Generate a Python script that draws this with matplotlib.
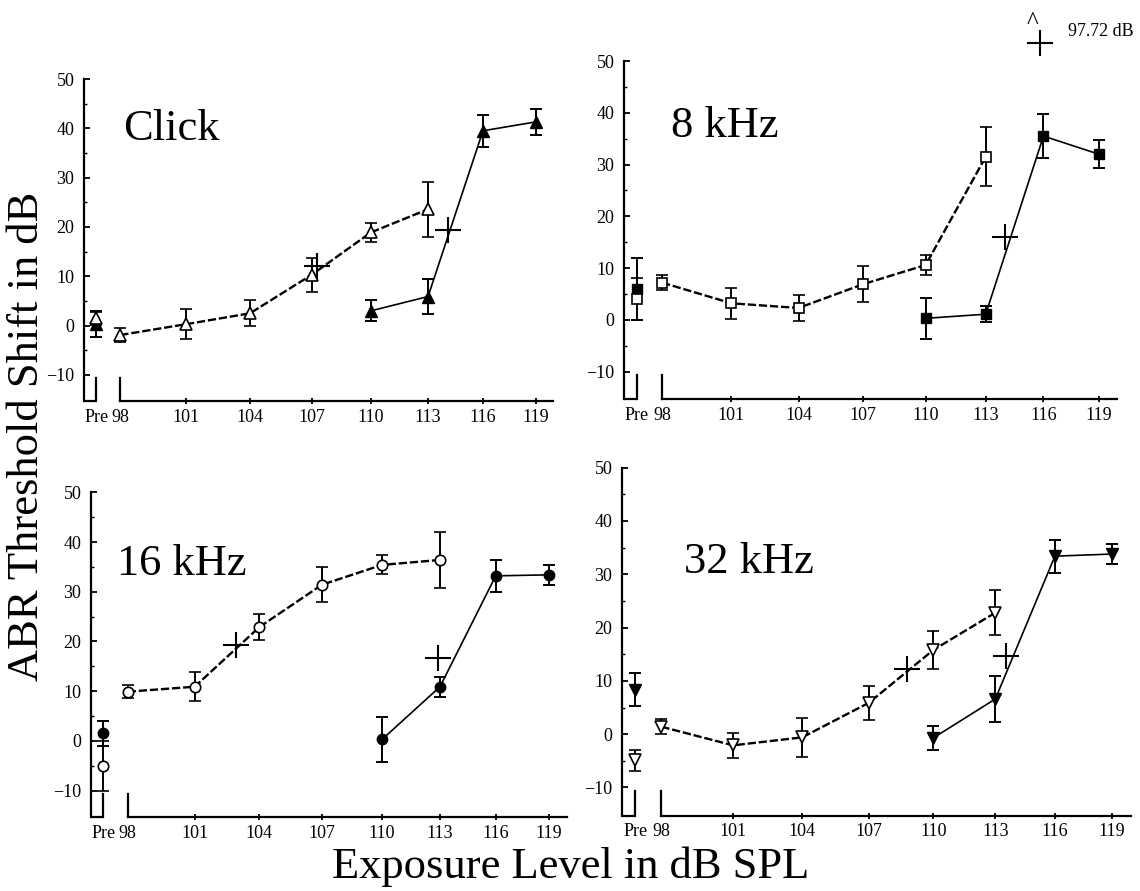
import numpy as np
import matplotlib
matplotlib.use('Agg')
import matplotlib.pyplot as plt

plt.rcParams['font.family'] = 'Liberation Serif'

# exposure levels (dB SPL); "Pre" sits just left of 98 on the broken axis
PRE = 96.93
levels_lo = [98, 101, 104, 107, 110, 113]
levels_hi = [110, 113, 116, 119]
tick_pos = [PRE, 98, 101, 104, 107, 110, 113, 116, 119]
tick_lab = ['Pre', '98', '101', '104', '107', '110', '113', '116', '119']

# Click (triangles)
click_open = [-1.9, 0.3, 2.5, 10.3, 18.9, 23.6]
click_open_err = [1.4, 3.0, 2.6, 3.5, 1.9, 5.6]
click_fill = [3.0, 5.9, 39.5, 41.3]
click_fill_err = [2.1, 3.5, 3.3, 2.7]
click_pre = [1.5, 0.3]
click_pre_err = [1.3, 2.6]
click_cross_x = [107.25, 114.05]
click_cross_y = [12.1, 19.4]

# 8 kHz (squares)
k8_open = [7.2, 3.2, 2.3, 6.9, 10.6, 31.5]
k8_open_err = [1.4, 3.0, 2.6, 3.5, 1.9, 5.7]
k8_fill = [0.3, 1.1, 35.5, 32.0]
k8_fill_err = [3.9, 1.5, 4.3, 2.7]
k8_pre = [4.0, 5.9]
k8_pre_err = [4.0, 6.0]
k8_cross_x = [115.8, 114.0]
k8_cross_y = [53.4, 15.95]

# 16 kHz (circles)
k16_open = [9.9, 10.9, 22.9, 31.4, 35.4, 36.4]
k16_open_err = [1.3, 2.9, 2.6, 3.5, 1.9, 5.6]
k16_fill = [0.3, 10.9, 33.2, 33.4]
k16_fill_err = [4.6, 2.0, 3.2, 2.0]
k16_pre = [-5.0, 1.5]
k16_pre_err = [5.0, 2.6]
k16_cross_x = [102.9, 112.9]
k16_cross_y = [19.2, 16.7]

# 32 kHz (down triangles)
k32_open = [1.4, -2.1, -0.6, 5.9, 15.8, 22.8]
k32_open_err = [1.4, 2.3, 3.7, 3.2, 3.6, 4.2]
k32_fill = [-0.7, 6.6, 33.4, 33.8]
k32_fill_err = [2.2, 4.3, 3.1, 1.9]
k32_pre = [-4.9, 8.3]
k32_pre_err = [2.0, 3.1]
k32_cross_x = [108.75, 113.55]
k32_cross_y = [12.3, 14.7]

# the printed x axis is slightly compressed toward the high end
K = 0.00551


def fwd(x):
    d = np.asarray(x, dtype=float) - 98
    return d - K * d * d


def inv(f):
    f = np.asarray(f, dtype=float)
    return 98 + (1 - np.sqrt(np.clip(1 - 4 * K * f, 0, None))) / (2 * K)


W, H = 1140, 891
fig = plt.figure(figsize=(W / 100, H / 100), dpi=100)


def px_axes(left, right, top, bottom):
    return fig.add_axes([left / W, 1 - bottom / H, (right - left) / W, (bottom - top) / H])


panels = [
    ('Click', '^', click_open, click_open_err, click_fill, click_fill_err,
     click_pre, click_pre_err, click_cross_x, click_cross_y,
     (84.2, 552.7, 79, 401.1), (0.083, 0.811), 8),
    ('8 kHz', 's', k8_open, k8_open_err, k8_fill, k8_fill_err,
     k8_pre, k8_pre_err, k8_cross_x, k8_cross_y,
     (624.1, 1116.8, 61, 399.1), (0.095, 0.775), 7.5),
    ('16 kHz', 'o', k16_open, k16_open_err, k16_fill, k16_fill_err,
     k16_pre, k16_pre_err, k16_cross_x, k16_cross_y,
     (91.1, 566.5, 492.3, 817.0), (0.054, 0.745), 7.5),
    ('32 kHz', 'v', k32_open, k32_open_err, k32_fill, k32_fill_err,
     k32_pre, k32_pre_err, k32_cross_x, k32_cross_y,
     (622.2, 1130.6, 467.7, 815.7), (0.121, 0.698), 8),
]

YMIN, YMAX = -15.3, 50
XMIN, XMAX = 96.4, 120.0

for (name, mk, yo, eo, yf, ef, pre, pre_err, cx, cy, box, txy, ms) in panels:
    ax = px_axes(*box)
    ax.set_xscale('function', functions=(fwd, inv))
    ax.set_xlim(XMIN, XMAX)
    ax.set_ylim(YMIN, YMAX)

    eb = dict(ecolor='k', elinewidth=1.4, capsize=4, capthick=1.4)
    # pre-exposure points: filled behind open
    ax.errorbar([PRE], [pre[1]], [pre_err[1]], marker=mk, ms=ms, mfc='k', mec='k',
                ls='none', zorder=3, **eb)
    ax.errorbar([PRE], [pre[0]], [pre_err[0]], marker=mk, ms=ms, mfc='w', mec='k',
                mew=1.2, ls='none', zorder=4, **eb)
    # open series (dashed)
    ax.errorbar(levels_lo, yo, eo, marker=mk, ms=ms, mfc='w', mec='k', mew=1.2,
                color='k', lw=1.7, ls=(0, (3.5, 1.2)), zorder=4, **eb)
    # filled series (solid)
    ax.errorbar(levels_hi, yf, ef, marker=mk, ms=ms, mfc='k', mec='k',
                color='k', lw=1.2, ls='-', zorder=3, **eb)
    # crosses
    ax.plot(cx, cy, ls='none', marker='+', ms=19, mew=1.5, color='k',
            clip_on=False, zorder=5)

    ax.text(txy[0], txy[1], name, transform=ax.transAxes, fontsize=32,
            ha='left', va='baseline')

    # spines and broken x axis
    for s in ['top', 'right']:
        ax.spines[s].set_visible(False)
    ax.spines['left'].set_linewidth(1.6)
    ax.spines['bottom'].set_linewidth(1.6)
    ax.spines['bottom'].set_bounds(98, XMAX)
    ax.plot([XMIN, PRE], [YMIN, YMIN], color='k', lw=1.6, clip_on=False,
            solid_capstyle='butt')
    ax.plot([PRE, PRE], [YMIN, -10.6], color='k', lw=1.6, clip_on=False)
    ax.plot([98, 98], [YMIN, -10.6], color='k', lw=1.6, clip_on=False)

    ax.set_xticks(tick_pos)
    ax.set_xticklabels(tick_lab)
    ax.tick_params(axis='x', direction='inout', length=5, width=1.3,
                   labelsize=13, pad=3)
    for t in ax.xaxis.get_major_ticks()[:2]:
        t.tick1line.set_visible(False)
    ax.set_yticks(np.arange(-10, 51, 10))
    ax.set_yticks(np.arange(-5, 50, 10), minor=True)
    ax.tick_params(axis='y', which='major', direction='in', length=4, width=1.3,
                   labelsize=13, pad=7)
    ax.tick_params(axis='y', which='minor', direction='in', length=2, width=1.0)

# off-scale note for the 8 kHz panel
fig.text(1032.7 / W, 1 - 29.4 / H, '^', fontsize=18, ha='center', va='baseline')
fig.text(1068 / W, 1 - 36 / H, '97.72 dB', fontsize=13, ha='left', va='baseline')

fig.text(27 / W, 1 - 436 / H, 'ABR Threshold Shift in dB', rotation=90,
         fontsize=32, ha='center', va='center')
fig.text(571 / W, 1 - 878 / H, 'Exposure Level in dB SPL', fontsize=32,
         ha='center', va='baseline')

fig.savefig('out.png', dpi=100)
